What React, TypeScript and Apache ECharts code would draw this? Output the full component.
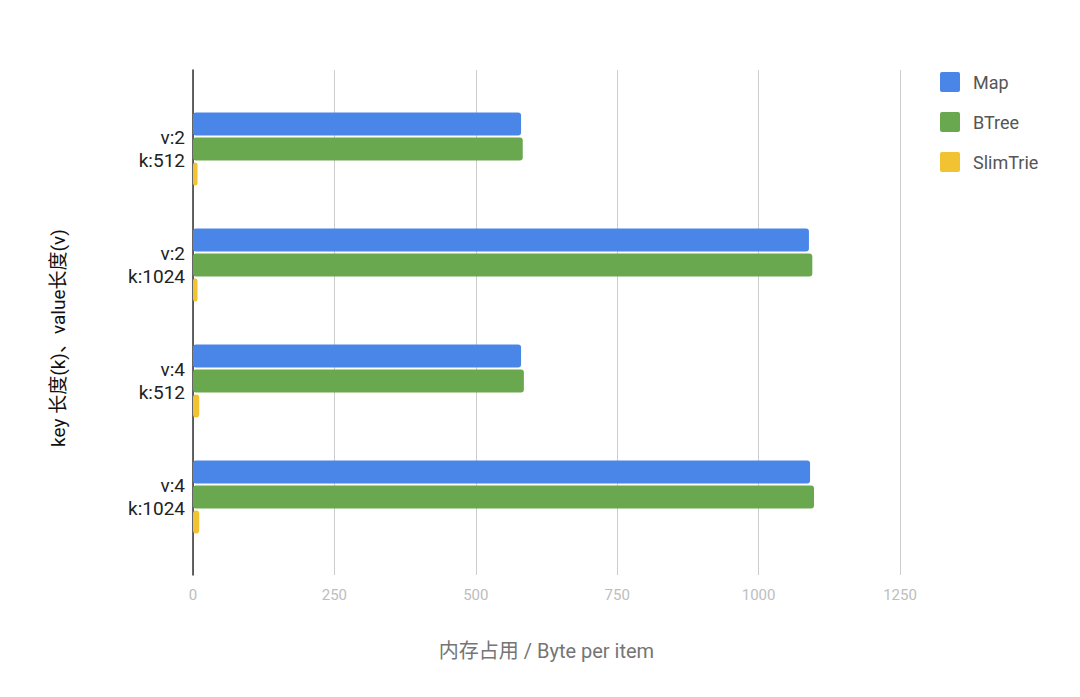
import React, { useEffect, useRef } from "react";
import * as echarts from "echarts";

const categories = ["v:2\nk:512", "v:2\nk:1024", "v:4\nk:512", "v:4\nk:1024"];
const seriesNames = ["Map", "BTree", "SlimTrie"];
const mapValues = [580, 1089, 580, 1091];
const btreeValues = [583, 1095, 585, 1098];
const slimTrieValues = [8, 8, 11, 11];
const colors = ["#4a86e8", "#6aa84f", "#f1c232"];
const xTicks = [0, 250, 500, 750, 1000, 1250];

export default function App() {
  const ref = useRef<HTMLDivElement>(null);
  useEffect(() => {
    if (!ref.current) return;
    const chart = echarts.init(ref.current, undefined, { renderer: "svg" });
    const font = "Roboto, 'Noto Sans CJK SC', sans-serif";
    const values = [mapValues, btreeValues, slimTrieValues];
    chart.setOption({
      animation: false,
      backgroundColor: "#ffffff",
      textStyle: { fontFamily: font },
      legend: {
        orient: "vertical",
        left: 940,
        top: 72,
        padding: 0,
        itemWidth: 20,
        itemHeight: 20,
        itemGap: 20,
        icon: "path://M2,0 H18 Q20,0 20,2 V18 Q20,20 18,20 H2 Q0,20 0,18 V2 Q0,0 2,0 Z",
        data: seriesNames,
        textStyle: { fontSize: 18, color: "#555", padding: [0, 0, 0, 8], fontFamily: font },
      },
      grid: [
        { left: 193, right: 180, top: 70, bottom: 122 },
        { left: 193, right: 180, top: 91, bottom: 142 },
      ],
      xAxis: [
        {
          gridIndex: 0,
          type: "value",
          min: xTicks[0],
          max: xTicks[xTicks.length - 1],
          interval: 250,
          axisLine: { show: false },
          axisTick: { show: false },
          splitLine: { show: true, lineStyle: { color: "#cccccc", width: 1 } },
          axisLabel: {
            color: "#bdbdbd",
            fontSize: 15,
            margin: 12,
            fontFamily: font,
            formatter: (v: number) => String(v),
          },
          name: "内存占用 / Byte per item",
          nameLocation: "middle",
          nameGap: 66,
          nameTextStyle: { color: "#757575", fontSize: 20, fontFamily: font },
        },
        {
          gridIndex: 1,
          type: "value",
          min: xTicks[0],
          max: xTicks[xTicks.length - 1],
          show: false,
        },
      ],
      yAxis: [
        {
          gridIndex: 0,
          type: "category",
          data: [""],
          axisLine: { show: true, lineStyle: { color: "#333333", width: 1.5 } },
          axisTick: { show: false },
          axisLabel: { show: false },
          splitLine: { show: false },
        },
        {
          gridIndex: 1,
          type: "category",
          inverse: true,
          data: categories,
          axisLine: { show: false },
          axisTick: { show: false },
          axisLabel: {
            color: "#222222",
            fontSize: 19,
            lineHeight: 23,
            align: "right",
            margin: 8,
            fontFamily: font,
          },
        },
      ],
      graphic: [
        {
          type: "text",
          x: 58,
          y: 338,
          rotation: Math.PI / 2,
          style: {
            text: "key 长度(k)、value长度(v)",
            fill: "#111111",
            font: "19px Roboto, 'Noto Sans CJK SC', sans-serif",
            textAlign: "center",
            textVerticalAlign: "middle",
          },
        },
      ],
      series: seriesNames.map((name, i) => ({
        name,
        type: "bar",
        xAxisIndex: 1,
        yAxisIndex: 1,
        data: values[i],
        barWidth: 23,
        barGap: "9%",
        itemStyle: { color: colors[i], borderRadius: 3 },
      })),
    });
    return () => chart.dispose();
  }, []);
  return (
    <div
      ref={ref}
      style={{ position: "fixed", left: 0, top: 0, width: 1080, height: 697 }}
    />
  );
}
